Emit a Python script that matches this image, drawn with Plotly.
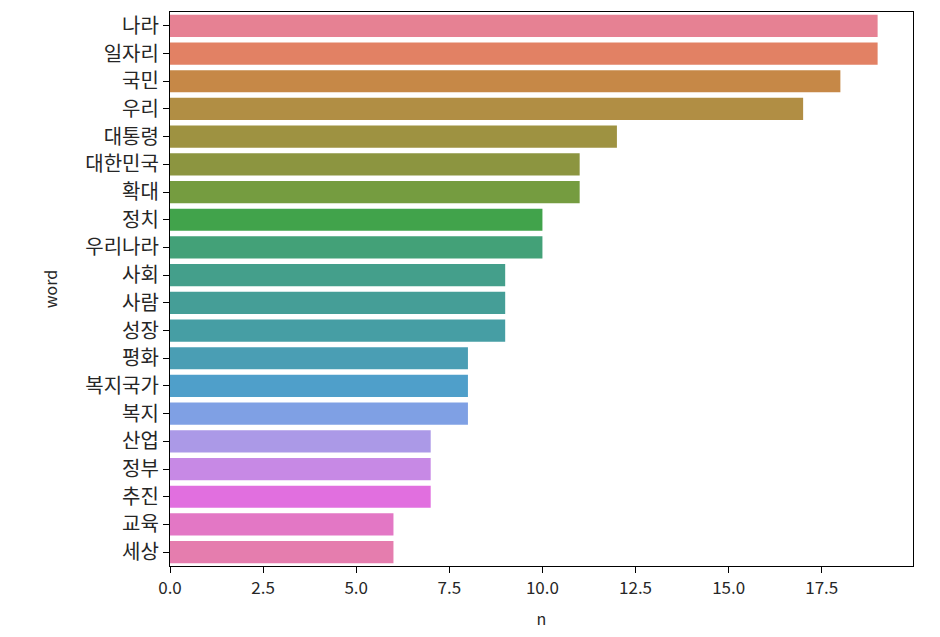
import colorsys
import math
import plotly.graph_objects as go

words = ["나라", "일자리", "국민", "우리", "대통령", "대한민국", "확대", "정치", "우리나라", "사회",
         "사람", "성장", "평화", "복지국가", "복지", "산업", "정부", "추진", "교육", "세상"]
counts = [19, 19, 18, 17, 12, 11, 11, 10, 10, 9, 9, 9, 8, 8, 8, 7, 7, 7, 6, 6]
x_ticks = [0, 2.5, 5, 7.5, 10, 12.5, 15, 17.5]
x_tick_labels = ["0.0", "2.5", "5.0", "7.5", "10.0", "12.5", "15.0", "17.5"]

# --- seaborn-like husl palette (style only) ---
_M = [[3.240969941904521, -1.537383177570093, -0.498610760293],
      [-0.96924363628087, 1.87596750150772, 0.041555057407175],
      [0.055630079696993, -0.20397695888897, 1.056971514242878]]
_REF_U, _REF_V, _KAPPA, _EPS = 0.19783000664283, 0.46831999493879, 903.2962962, 0.0088564516


def _max_chroma(L, H):
    hrad = math.radians(H)
    sinH, cosH = math.sin(hrad), math.cos(hrad)
    sub1 = (L + 16) ** 3 / 1560896.0
    sub2 = sub1 if sub1 > _EPS else L / _KAPPA
    result = float("inf")
    for m1, m2, m3 in _M:
        top = (0.99915 * m1 + 1.05122 * m2 + 1.14460 * m3) * sub2
        rbottom = 0.86330 * m3 - 0.17266 * m2
        lbottom = 0.12949 * m3 - 0.38848 * m1
        bottom = (rbottom * sinH + lbottom * cosH) * sub2
        for t in (0.0, 1.0):
            C = L * (top - 1.05122 * t) / (bottom + 0.17266 * sinH * t)
            if 0 < C < result:
                result = C
    return result


def _husl_to_rgb(H, S, L):
    C = _max_chroma(L, H) / 100.0 * S
    hrad = math.radians(H)
    U, V = C * math.cos(hrad), C * math.sin(hrad)
    Y = ((L + 16) / 116.0) ** 3 if L > 8 else L / _KAPPA
    varU = U / (13 * L) + _REF_U
    varV = V / (13 * L) + _REF_V
    X = 0 - (9 * Y * varU) / ((varU - 4) * varV - varU * varV)
    Z = (9 * Y - 15 * varV * Y - varV * X) / (3 * varV)
    out = []
    for row in _M:
        c = row[0] * X + row[1] * Y + row[2] * Z
        c = 12.92 * c if c <= 0.0031308 else 1.055 * c ** (1 / 2.4) - 0.055
        out.append(min(max(c, 0.0), 1.0))
    return out


def _palette(n, h=0.01, s=0.9, l=0.65, desat=0.75):
    cols = []
    for i in range(n):
        hue = ((i / n + h) % 1) * 359
        r, g, b = _husl_to_rgb(hue, s * 99, l * 99)
        hh, ll, ss = colorsys.rgb_to_hls(r, g, b)
        r, g, b = colorsys.hls_to_rgb(hh, ll, ss * desat)
        cols.append("rgb(%d,%d,%d)" % (round(r * 255), round(g * 255), round(b * 255)))
    return cols


colors = _palette(len(words))

font_family = "Noto Sans CJK KR, Noto Sans, sans-serif"

fig = go.Figure(go.Bar(
    x=counts, y=words, orientation="h",
    marker=dict(color=colors, line=dict(width=0)),
    width=0.8,
))

fig.update_layout(
    width=940, height=637,
    margin=dict(l=162, r=35, t=4, b=79, autoexpand=False),
    paper_bgcolor="white", plot_bgcolor="white",
    font=dict(family=font_family, size=16, color="#262626"),
    showlegend=False,
)
fig.update_xaxes(
    range=[0, 19.95], tickvals=x_ticks, ticktext=x_tick_labels,
    showgrid=False, zeroline=False,
    showline=True, linecolor="black", linewidth=1.3, mirror=True,
    ticks="outside", ticklen=6, tickwidth=1.2, tickcolor="black",
    title=dict(text="n", standoff=16, font=dict(size=16)),
    tickfont=dict(size=17),
)
fig.update_yaxes(
    categoryorder="array", categoryarray=words,
    range=[len(words) - 0.5, -0.5],
    showgrid=False, zeroline=False,
    showline=True, linecolor="black", linewidth=1.3, mirror=True,
    ticks="outside", ticklen=6, tickwidth=1.2, tickcolor="black",
    title=dict(text="word", standoff=23, font=dict(size=16)),
    tickfont=dict(size=20),
)

fig.write_html("out.html")
